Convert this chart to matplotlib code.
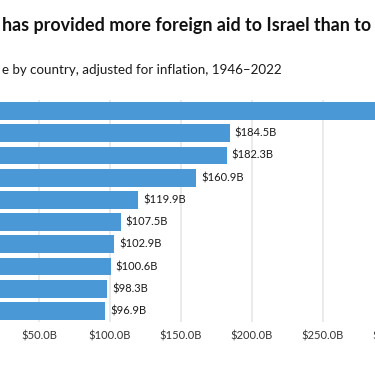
import matplotlib
matplotlib.use("Agg")
import matplotlib.pyplot as plt

# values, top bar to bottom (billions of dollars)
values = [310.0, 184.5, 182.3, 160.9, 119.9, 107.5, 102.9, 100.6, 98.3, 96.9]
ranks = list(range(len(values)))
tick_vals = [0, 50, 100, 150, 200, 250, 300]
tick_labels = ["$0.0B", "$50.0B", "$100.0B", "$150.0B", "$200.0B", "$250.0B", "$300.0B"]

BAR = "#4a98d6"
W, H = 375, 366

plt.rcParams['font.family'] = ['Lato', 'DejaVu Sans']

fig = plt.figure(figsize=(W / 100, H / 100), dpi=100)
# the chart is cropped: zero sits left of the picture edge
ax = fig.add_axes([-32 / W, 44 / H, 454 / W, 222 / H])

ax.barh(ranks, values, height=0.8, color=BAR, zorder=2)
for r, v in zip(ranks, values):
    ax.text(v + 3.5, r, "$%.1fB" % v, va="center", ha="left",
            fontsize=8, color="#1a1a1a")

ax.set_xlim(0, 320)
ax.set_ylim(9.5, -0.5)
ax.set_xticks(tick_vals)
ax.set_xticklabels(tick_labels)
ax.set_yticks([])
ax.tick_params(axis="x", length=0, pad=6, labelsize=8, labelcolor="#333333")
ax.grid(axis="x", color="#e8e8e8", linewidth=1.2, zorder=0)
for s in ax.spines.values():
    s.set_visible(False)

fig.text(2 / W, 1 - 25 / H, "has provided more foreign aid to Israel than to",
         fontsize=12.9, fontweight="bold", color="#111111", va="center", ha="left")
fig.text(2 / W, 1 - 70 / H, "e by country, adjusted for inflation, 1946–2022",
         fontsize=9.65, color="#1a1a1a", va="center", ha="left")

fig.savefig("out.png", dpi=100)
